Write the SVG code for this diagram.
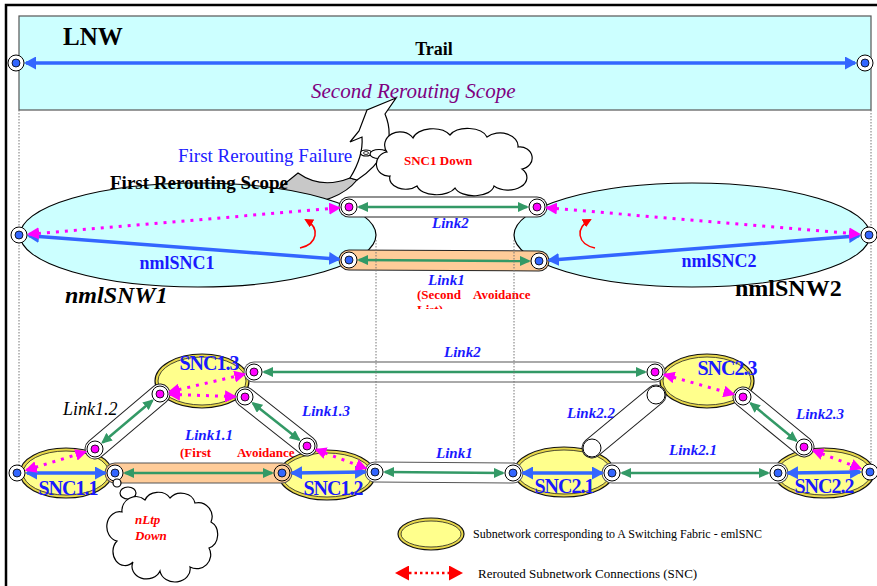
<svg xmlns="http://www.w3.org/2000/svg" width="877" height="586" viewBox="0 0 877 586">
<defs>
<style>
  text { font-family: "Liberation Serif", "Times New Roman", serif; }
  .lnk { font-weight: bold; font-style: italic; font-size: 15px; fill: #1a1aff; }
  .snc { font-weight: bold; font-size: 20px; fill: #1a1aff; letter-spacing: -1px; text-anchor: middle; }
  .note { fill: #ff0000; font-weight: bold; font-size: 13px; }
  .guide { stroke: #777; stroke-width: 1; stroke-dasharray: 1.5 1.5; fill: none; }
  .bar-o { stroke: #222; stroke-width: 21; stroke-linecap: round; fill: none; }
  .bar-g { stroke: #555; }
  .bar-i { stroke: #fff; stroke-width: 19; stroke-linecap: round; fill: none; }
  .bar-p { stroke: #ffcc99; }
  .blue { stroke: #3366ff; stroke-width: 3.5; fill: none; marker-start: url(#ah-blue); marker-end: url(#ah-blue); }
  .mag { stroke: #ff00ff; stroke-width: 3; stroke-dasharray: 3 6; fill: none; marker-start: url(#ah-mag); marker-end: url(#ah-mag); }
  .grn { stroke: #339966; stroke-width: 2.5; fill: none; marker-start: url(#ah-grn); marker-end: url(#ah-grn); }
  .turn { stroke: #ff0000; stroke-width: 1.5; fill: none; marker-end: url(#ah-red-s); }
  .port { fill: #fff; stroke: #000; stroke-width: 1; }
  .pb { fill: #3366ff; stroke: #000; stroke-width: 0.8; }
  .pm { fill: #ff00ff; stroke: #000; stroke-width: 0.8; }
  .sw-o { fill: #e8d84a; stroke: #111; stroke-width: 1.2; }
  .sw-i { fill: #ffff8c; stroke: #222; stroke-width: 0.8; }
  .nw { fill: #ccffff; stroke: #000; stroke-width: 1.2; }
  .cloud { fill: #fff; stroke: #000; stroke-width: 1.2; }
</style>
<marker id="ah-blue" viewBox="0 0 12 13" refX="10" refY="6.5" markerWidth="12" markerHeight="13" markerUnits="userSpaceOnUse" orient="auto-start-reverse">
  <path d="M0,0 L12,6.5 L0,13 Z" fill="#3366ff"/>
</marker>
<marker id="ah-mag" viewBox="0 0 12 12" refX="10" refY="6" markerWidth="12" markerHeight="12" markerUnits="userSpaceOnUse" orient="auto-start-reverse">
  <path d="M0,0 L12,6 L0,12 Z" fill="#ff00ff"/>
</marker>
<marker id="ah-grn" viewBox="0 0 11 10" refX="9" refY="5" markerWidth="11" markerHeight="10" markerUnits="userSpaceOnUse" orient="auto-start-reverse">
  <path d="M0,0 L11,5 L0,10 Z" fill="#339966"/>
</marker>
<marker id="ah-red-s" viewBox="0 0 9 9" refX="7" refY="4.5" markerWidth="9" markerHeight="9" markerUnits="userSpaceOnUse" orient="auto">
  <path d="M0,0 L9,4.5 L0,9 Z" fill="#ff0000"/>
</marker>
<marker id="ah-red" viewBox="0 0 14 15" refX="11" refY="7.5" markerWidth="14" markerHeight="15" markerUnits="userSpaceOnUse" orient="auto-start-reverse">
  <path d="M0,0 L14,7.5 L0,15 Z" fill="#ff0000"/>
</marker>
<g id="pt-b"><circle r="8" class="port"/><circle r="4" class="pb"/></g>
<g id="pt-m"><circle r="8" class="port"/><circle r="4" class="pm"/></g>
<g id="pt-e"><circle r="9" class="port"/></g>
<clipPath id="clip-upper-note"><rect x="400" y="285" width="160" height="24"/></clipPath>
<clipPath id="clip-lower-note"><rect x="170" y="443" width="140" height="24"/></clipPath>
</defs>

<!-- page frame -->
<path d="M6,586 V5 H877" stroke="#000" stroke-width="2.5" fill="none"/>

<!-- layer network band with end-to-end trail -->
<g id="lnw">
  <rect x="19" y="16" width="852" height="94" fill="#ccffff" stroke="#555" stroke-width="1.2"/>
  <text x="63" y="45" font-size="25" font-weight="bold">LNW</text>
  <text x="434" y="55" font-size="18" font-weight="bold" text-anchor="middle">Trail</text>
  <text x="311" y="98" font-size="21" font-style="italic" fill="#800080">Second Rerouting Scope</text>
  <line class="blue" x1="26" y1="63" x2="855" y2="63"/>
  <use href="#pt-b" x="16" y="63"/>
  <use href="#pt-b" x="865" y="63"/>
</g>

<!-- escalation arrow and failure callout -->
<g id="escalation">
  <path d="M277,190 L298,173 C312,183 330,186 350,178 L357,180 C345,195 320,205 300,202 C290,200 282,196 277,190 Z" fill="#c8c8c8" stroke="#000" stroke-width="1.2"/>
  <path d="M350,178 C360,162 363,150 362,137 L350,142 L359,131 L367,110 L396,98 L385,114 C391,128 390,142 385,150 C378,164 368,173 357,180 Z" fill="#fff" stroke="#000" stroke-width="1.2"/>
  <text x="178" y="162" font-size="19" fill="#2020ff">First Rerouting Failure</text>
</g>
<g id="snc1-down">
  <ellipse cx="366" cy="153" rx="5.5" ry="3" class="cloud"/>
  <ellipse cx="366" cy="153" rx="2.5" ry="1.5" fill="none" stroke="#000" stroke-width="0.8"/>
  <ellipse cx="379" cy="154" rx="9" ry="4.5" class="cloud"/>
  <path class="cloud" d="M387,152 A14,12 0 0 1 413,138 A20,12 0 0 1 450,135 A20,12 0 0 1 487,137 A18,13 0 0 1 518,147 A12,11 0 0 1 522,169 A18,12 0 0 1 494,186 A20,11 0 0 1 455,188 A20,11 0 0 1 417,186 A16,11 0 0 1 390,176 A12,12 0 0 1 387,152 Z"/>
  <text x="404" y="165" class="note">SNC1 Down</text>
</g>

<!-- network-level subnetworks -->
<g id="nmlSNW1">
  <ellipse cx="198" cy="235" rx="178" ry="52" class="nw"/>
  <text x="110" y="189" font-size="19" font-weight="bold">First Rerouting Scope</text>
  <text x="177" y="269" font-size="18" font-weight="bold" fill="#1a1aff" text-anchor="middle">nmlSNC1</text>
  <text x="65" y="303" font-size="24" font-weight="bold" font-style="italic">nmlSNW1</text>
</g>
<g id="nmlSNW2">
  <ellipse cx="692" cy="235" rx="178" ry="52" class="nw"/>
  <text x="719" y="267" font-size="18" font-weight="bold" fill="#1a1aff" text-anchor="middle">nmlSNC2</text>
  <text x="735" y="296" font-size="24" font-weight="bold">nmlSNW2</text>
</g>

<!-- link notes (partly hidden by their text boxes / link bars) -->
<text class="note" clip-path="url(#clip-upper-note)"><tspan x="417" y="299">(Second</tspan><tspan x="473" y="299">Avoidance</tspan><tspan x="417" y="314">List)</tspan></text>
<text class="note" clip-path="url(#clip-lower-note)"><tspan x="180" y="457">(First</tspan><tspan x="237" y="457">Avoidance</tspan><tspan x="180" y="472">List)</tspan></text>

<!-- switching-fabric subnetworks -->
<g id="snc1-1">
  <ellipse cx="66" cy="473" rx="46" ry="25" class="sw-o"/>
  <ellipse cx="66" cy="473" rx="43" ry="22" class="sw-i"/>
  <text x="68" y="495" class="snc">SNC1.1</text>
</g>
<g id="snc1-3">
  <ellipse cx="202" cy="381" rx="47" ry="27" class="sw-o"/>
  <ellipse cx="202" cy="381" rx="44" ry="24" class="sw-i"/>
  <text x="209" y="370" class="snc">SNC1.3</text>
</g>
<g id="snc1-2">
  <ellipse cx="327" cy="475" rx="48" ry="25" class="sw-o"/>
  <ellipse cx="327" cy="475" rx="45" ry="22" class="sw-i"/>
  <text x="333" y="495" class="snc">SNC1.2</text>
</g>
<g id="snc2-1">
  <ellipse cx="564" cy="472" rx="50" ry="25" class="sw-o"/>
  <ellipse cx="564" cy="472" rx="47" ry="22" class="sw-i"/>
  <text x="564" y="493" class="snc">SNC2.1</text>
</g>
<g id="snc2-3">
  <ellipse cx="707" cy="381" rx="47" ry="27" class="sw-o"/>
  <ellipse cx="707" cy="381" rx="44" ry="24" class="sw-i"/>
  <text x="727" y="375" class="snc">SNC2.3</text>
</g>
<g id="snc2-2">
  <ellipse cx="824" cy="473" rx="50" ry="25" class="sw-o"/>
  <ellipse cx="824" cy="473" rx="47" ry="22" class="sw-i"/>
  <text x="824" y="493" class="snc">SNC2.2</text>
</g>

<!-- links, subnetwork connections and reroute turns -->
<g id="connectors">
  <!-- link bars -->
  <line class="bar-o" x1="349" y1="207" x2="537" y2="207"/>
  <line class="bar-i" x1="349" y1="207" x2="537" y2="207"/>
  <line class="bar-o" x1="349" y1="260" x2="539" y2="261"/>
  <line class="bar-i bar-p" x1="349" y1="260" x2="539" y2="261"/>

  <line class="bar-o bar-g" x1="254" y1="372" x2="655" y2="372"/>
  <line class="bar-i" x1="254" y1="372" x2="655" y2="372"/>
  <line class="bar-o" x1="95" y1="449" x2="160" y2="394"/>
  <line class="bar-i" x1="95" y1="449" x2="160" y2="394"/>
  <line class="bar-o" x1="245" y1="397" x2="307" y2="446"/>
  <line class="bar-i" x1="245" y1="397" x2="307" y2="446"/>
  <line class="bar-o bar-g" x1="115" y1="473" x2="282" y2="473"/>
  <line class="bar-i bar-p" x1="115" y1="473" x2="282" y2="473"/>
  <line class="bar-o bar-g" x1="375" y1="472" x2="513" y2="473"/>
  <line class="bar-i" x1="375" y1="472" x2="513" y2="473"/>
  <line class="bar-o bar-g" x1="612" y1="473" x2="778" y2="473"/>
  <line class="bar-i" x1="612" y1="473" x2="778" y2="473"/>
  <line class="bar-o" x1="592" y1="448" x2="656" y2="395"/>
  <line class="bar-i" x1="592" y1="448" x2="656" y2="395"/>
  <line class="bar-o" x1="743" y1="397" x2="804" y2="447"/>
  <line class="bar-i" x1="743" y1="397" x2="804" y2="447"/>

  <!-- link connections -->
  <line class="grn" x1="359" y1="207" x2="527" y2="207"/>
  <line class="grn" x1="359" y1="260" x2="529" y2="261"/>
  <line class="grn" x1="264" y1="372" x2="645" y2="372"/>
  <line class="grn" x1="102.6" y1="442.5" x2="152.4" y2="400.5"/>
  <line class="grn" x1="252.9" y1="403.2" x2="299.1" y2="439.8"/>
  <line class="grn" x1="125" y1="473" x2="272" y2="473"/>
  <line class="grn" x1="385" y1="472" x2="503" y2="473"/>
  <line class="grn" x1="622" y1="473" x2="768" y2="473"/>
  <line class="grn" x1="750.7" y1="403.3" x2="796.3" y2="440.7"/>

  <!-- network-level SNCs -->
  <line class="blue" x1="29" y1="235.8" x2="339" y2="259.2"/>
  <line class="mag" x1="29" y1="234.2" x2="339" y2="207.8"/>
  <line class="blue" x1="549" y1="260.2" x2="859" y2="235.8"/>
  <line class="mag" x1="547" y1="207.8" x2="859" y2="234.2"/>
  <path class="turn" d="M300,248 C318,244 320,228 306,220"/>
  <path class="turn" d="M595,248 C577,244 575,228 590,220"/>

  <!-- fabric-level SNCs -->
  <line class="blue" x1="27" y1="473" x2="105" y2="473"/>
  <line class="mag" x1="26.6" y1="470.1" x2="85.4" y2="451.9"/>
  <line class="mag" x1="169.7" y1="391.7" x2="244.3" y2="374.3"/>
  <line class="mag" x1="170" y1="394.4" x2="235" y2="396.6"/>
  <line class="blue" x1="292" y1="473" x2="365" y2="472"/>
  <line class="mag" x1="316.3" y1="449.6" x2="365.7" y2="468.4"/>
  <line class="blue" x1="523" y1="473" x2="602" y2="473"/>
  <line class="mag" x1="664.6" y1="374.7" x2="733.4" y2="394.3"/>
  <line class="blue" x1="788" y1="473" x2="860" y2="472"/>
  <line class="mag" x1="813.4" y1="450.5" x2="860.6" y2="468.5"/>

  <!-- link names -->
  <text x="432" y="228" class="lnk">Link2</text>
  <text x="428" y="285" class="lnk">Link1</text>
  <text x="444" y="357" class="lnk">Link2</text>
  <text x="63" y="415" font-size="18" font-style="italic">Link1.2</text>
  <text x="302" y="416" class="lnk">Link1.3</text>
  <text x="185" y="440" class="lnk">Link1.1</text>
  <text x="436" y="458" class="lnk">Link1</text>
  <text x="567" y="418" class="lnk">Link2.2</text>
  <text x="669" y="455" class="lnk">Link2.1</text>
  <text x="796" y="419" class="lnk">Link2.3</text>
</g>

<!-- scope guide lines -->
<g id="guides">
  <line class="guide" x1="19" y1="110" x2="19" y2="466"/>
  <line class="guide" x1="871" y1="110" x2="871" y2="465"/>
  <line class="guide" x1="376" y1="240" x2="376" y2="463"/>
  <line class="guide" x1="514" y1="240" x2="514" y2="465"/>
</g>

<!-- termination points -->
<g id="ports">
  <use href="#pt-b" x="19" y="235"/>
  <use href="#pt-m" x="349" y="207"/>
  <use href="#pt-m" x="537" y="207"/>
  <use href="#pt-b" x="349" y="260"/>
  <use href="#pt-b" x="539" y="261"/>
  <use href="#pt-b" x="869" y="235"/>

  <use href="#pt-b" x="17" y="473"/>
  <use href="#pt-b" x="115" y="473"/>
  <use href="#pt-m" x="95" y="449"/>
  <use href="#pt-m" x="160" y="394"/>
  <use href="#pt-m" x="254" y="372"/>
  <use href="#pt-m" x="245" y="397"/>
  <circle cx="282" cy="473" r="8" fill="#ffcc99" stroke="#000" stroke-width="1"/>
  <circle cx="282" cy="473" r="4" class="pb"/>
  <use href="#pt-m" x="307" y="446"/>
  <use href="#pt-b" x="375" y="472"/>
  <use href="#pt-b" x="513" y="473"/>
  <use href="#pt-b" x="612" y="473"/>
  <use href="#pt-e" x="592" y="448"/>
  <use href="#pt-m" x="655" y="372"/>
  <use href="#pt-e" x="656" y="395"/>
  <use href="#pt-m" x="743" y="397"/>
  <use href="#pt-b" x="778" y="473"/>
  <use href="#pt-m" x="804" y="447"/>
  <use href="#pt-b" x="870" y="472"/>
</g>

<!-- port failure callout -->
<g id="nltp-down">
  <circle cx="117" cy="483" r="4" class="cloud"/>
  <ellipse cx="128" cy="493" rx="8" ry="6" class="cloud"/>
  <path class="cloud" d="M122,512 A14,14 0 0 1 145,500 A14,12 0 0 1 170,498 A14,12 0 0 1 195,503 A14,14 0 0 1 211,522 A12,14 0 0 1 209,548 A14,14 0 0 1 190,567 A14,12 0 0 1 160,571 A14,12 0 0 1 133,562 A12,14 0 0 1 117,541 A12,14 0 0 1 122,512 Z"/>
  <text x="135" y="524" class="note" font-style="italic" font-size="14">nLtp</text>
  <text x="135" y="540" class="note" font-style="italic" font-size="14">Down</text>
</g>

<!-- legend -->
<g id="legend">
  <ellipse cx="431" cy="534" rx="33" ry="16" class="sw-o"/>
  <ellipse cx="431" cy="534" rx="30" ry="13" class="sw-i"/>
  <text x="473" y="538" font-size="12">Subnetwork corresponding to A Switching Fabric - emlSNC</text>
  <line x1="398" y1="573" x2="460" y2="573" stroke="#ff0000" stroke-width="2.5" stroke-dasharray="2.5 3" marker-start="url(#ah-red)" marker-end="url(#ah-red)"/>
  <text x="478" y="578" font-size="13">Rerouted Subnetwork Connections (SNC)</text>
</g>
</svg>
